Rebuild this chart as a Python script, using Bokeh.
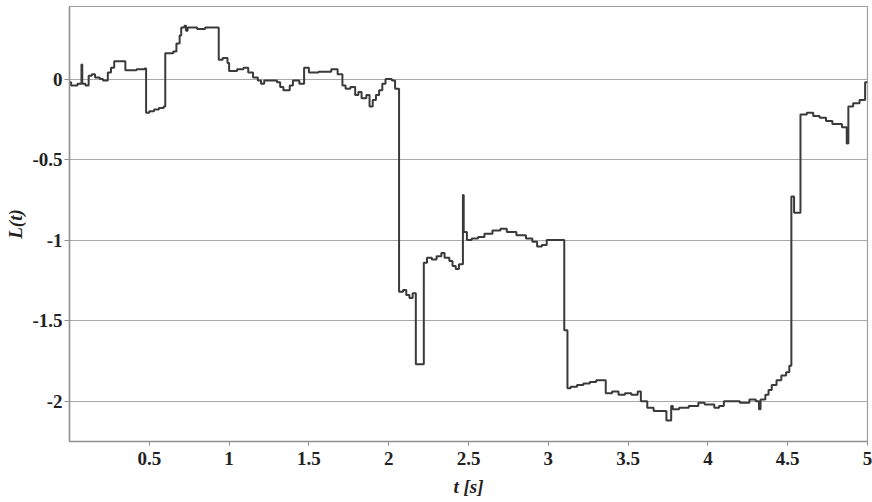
from bokeh.plotting import figure
from bokeh.models import FixedTicker, Range1d
from bokeh.embed import file_html
from bokeh.resources import INLINE

# time [s] at which each level starts (step "after")
t = [0.00, 0.01, 0.05, 0.075, 0.08, 0.10, 0.12, 0.14, 0.16, 0.19, 0.21, 0.24, 0.26, 0.28,
     0.35, 0.42, 0.47, 0.48, 0.50, 0.53, 0.56, 0.59, 0.60, 0.65, 0.67, 0.69, 0.70, 0.72,
     0.73, 0.74, 0.80, 0.85, 0.935, 0.96, 0.99, 1.00, 1.05, 1.09, 1.12, 1.15, 1.18, 1.20,
     1.22, 1.26, 1.30, 1.32, 1.34, 1.38, 1.40, 1.44, 1.47, 1.50, 1.56, 1.64, 1.68, 1.71,
     1.73, 1.76, 1.79, 1.81, 1.83, 1.86, 1.88, 1.90, 1.92, 1.94, 1.96, 1.98, 2.02, 2.04,
     2.065, 2.09, 2.11, 2.13, 2.15, 2.17, 2.22, 2.24, 2.27, 2.30, 2.33, 2.35, 2.38, 2.40,
     2.42, 2.44, 2.465, 2.47, 2.49, 2.52, 2.56, 2.60, 2.65, 2.70, 2.74, 2.80, 2.86, 2.90,
     2.93, 2.96, 2.99, 3.02, 3.10, 3.12, 3.14, 3.18, 3.22, 3.26, 3.30, 3.36, 3.40, 3.44,
     3.48, 3.52, 3.56, 3.58, 3.62, 3.66, 3.74, 3.77, 3.78, 3.82, 3.88, 3.94, 3.98, 4.04,
     4.07, 4.10, 4.20, 4.26, 4.30, 4.32, 4.33, 4.36, 4.38, 4.40, 4.43, 4.46, 4.49, 4.51,
     4.523, 4.54, 4.58, 4.62, 4.66, 4.70, 4.74, 4.78, 4.84, 4.87, 4.88, 4.91, 4.95, 4.985,
     5.00]
L = [-0.02, -0.04, -0.03, 0.09, -0.03, -0.04, 0.02, 0.03, 0.01, 0.00, -0.01, 0.04, 0.07, 0.11,
     0.055, 0.06, 0.065, -0.21, -0.20, -0.19, -0.18, -0.17, 0.16, 0.17, 0.22, 0.27, 0.32, 0.33,
     0.30, 0.32, 0.31, 0.32, 0.12, 0.13, 0.10, 0.05, 0.06, 0.07, 0.04, 0.01, -0.01, -0.03,
     -0.01, -0.01, -0.02, -0.05, -0.07, -0.04, -0.01, -0.03, 0.07, 0.04, 0.045, 0.06, 0.03, -0.04,
     -0.06, -0.05, -0.10, -0.08, -0.12, -0.10, -0.17, -0.13, -0.10, -0.07, -0.03, 0.00, -0.01, -0.06,
     -1.32, -1.31, -1.34, -1.36, -1.33, -1.77, -1.14, -1.11, -1.12, -1.10, -1.08, -1.11, -1.13, -1.16,
     -1.18, -1.15, -0.72, -0.95, -1.00, -0.99, -0.98, -0.96, -0.94, -0.93, -0.95, -0.97, -0.99, -1.01,
     -1.04, -1.03, -1.00, -1.00, -1.56, -1.92, -1.91, -1.90, -1.89, -1.88, -1.87, -1.95, -1.94, -1.96,
     -1.95, -1.96, -1.94, -2.00, -2.04, -2.06, -2.12, -2.03, -2.05, -2.04, -2.03, -2.01, -2.02, -2.04,
     -2.03, -2.00, -2.01, -1.99, -2.00, -2.05, -1.99, -1.96, -1.93, -1.90, -1.87, -1.84, -1.82, -1.78,
     -0.73, -0.83, -0.22, -0.21, -0.23, -0.24, -0.26, -0.28, -0.30, -0.40, -0.17, -0.15, -0.13, -0.02,
     -0.02]

x_ticks = [0.5, 1, 1.5, 2, 2.5, 3, 3.5, 4, 4.5, 5]
x_tick_labels = ["0.5", "1", "1.5", "2", "2.5", "3", "3.5", "4", "4.5", "5"]
y_ticks = [0, -0.5, -1, -1.5, -2]
y_tick_labels = ["0", "-0.5", "-1", "-1.5", "-2"]

FONT = "Liberation Serif"

p = figure(width=872, height=502, output_backend="svg", toolbar_location=None,
           x_range=Range1d(0, 5), y_range=Range1d(-2.25, 0.45),
           min_border_left=69, min_border_right=5, min_border_top=6, min_border_bottom=61)

p.step(t, L, mode="after", line_color="#3a3a3a", line_width=2)

p.xgrid.visible = False
p.ygrid.grid_line_color = "#a8a8a8"
p.ygrid.grid_line_width = 1.2
p.ygrid.ticker = FixedTicker(ticks=y_ticks)

p.outline_line_color = "#a0a0a0"
p.outline_line_width = 1.2

for ax in (p.xaxis[0], p.yaxis[0]):
    ax.axis_line_color = "#909090"
    ax.axis_line_width = 1.5
    ax.major_tick_line_color = "#909090"
    ax.major_tick_in = 0
    ax.minor_tick_line_color = None
    ax.major_label_text_font = FONT
    ax.major_label_text_font_style = "bold"
    ax.major_label_text_font_size = "19px"
    ax.major_label_text_color = "#222222"
    ax.axis_label_text_font = FONT
    ax.axis_label_text_font_style = "bold italic"
    ax.axis_label_text_font_size = "19px"
    ax.axis_label_text_color = "#222222"

p.xaxis.ticker = FixedTicker(ticks=x_ticks)
p.xaxis.major_label_overrides = dict(zip(x_ticks, x_tick_labels))
p.xaxis.major_tick_out = 4
p.xaxis.major_label_standoff = 6
p.xaxis.axis_label = "t [s]"
p.xaxis.axis_label_standoff = 8

p.yaxis.ticker = FixedTicker(ticks=y_ticks)
p.yaxis.major_label_overrides = dict(zip(y_ticks, y_tick_labels))
p.yaxis.major_tick_out = 5
p.yaxis.major_label_standoff = 2
p.yaxis.axis_label = "L(t)"
p.yaxis.axis_label_standoff = 3

open("out.html", "w").write(file_html(p, INLINE))
